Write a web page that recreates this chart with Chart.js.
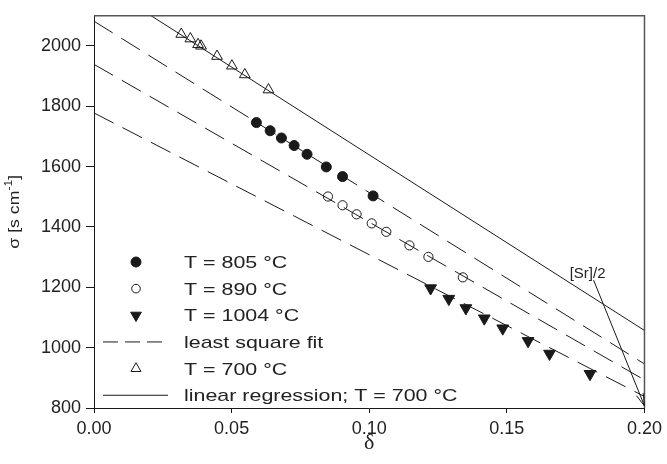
<!DOCTYPE html>
<html>
<head>
<meta charset="utf-8">
<script src="https://cdn.jsdelivr.net/npm/chart.js@4.4.1/dist/chart.umd.min.js"></script>
<style>
  html, body { margin: 0; padding: 0; background: #fff; }
</style>
</head>
<body>
<canvas id="myChart" width="667" height="464"></canvas>
<script>
// conductivity vs. oxygen nonstoichiometry for each temperature
let delta805 = [0.0590, 0.0640, 0.0681, 0.0727, 0.0774, 0.0844, 0.0903, 0.1014];
let sigma805 = [1746, 1719, 1695, 1670, 1641, 1599, 1567, 1503];
let delta890 = [0.0850, 0.0903, 0.0954, 0.1009, 0.1062, 0.1146, 0.1215, 0.1340];
let sigma890 = [1501, 1472, 1442, 1412, 1384, 1339, 1301, 1233];
let delta1004 = [0.1223, 0.1289, 0.1351, 0.1418, 0.1485, 0.1577, 0.1655, 0.1802];
let sigma1004 = [1197, 1162, 1131, 1097, 1064, 1022, 980, 913];
let delta700 = [0.0317, 0.0350, 0.0378, 0.0389, 0.0447, 0.0501, 0.0548, 0.0634];
let sigma700 = [2039, 2024, 2005, 2000, 1966, 1934, 1905, 1855];

// fitted lines: sigma at delta = 0 and at delta = 0.2
let fitDelta = [0, 0.2];
let fit805 = [2082, 946];
let fit890 = [1939, 893];
let fit1004 = [1778, 838];
let reg700 = [2221, 1057];

// [Sr]/2 marker: arrow from label to delta = 0.2
let srLabel = "[Sr]/2";
let srDelta = [0.1815, 0.2];
let srSigma = [1224, 807];

let xTicks = [0, 0.05, 0.10, 0.15, 0.20];
let yTicks = [800, 1000, 1200, 1400, 1600, 1800, 2000];

let legendLabels = ["T = 805 °C", "T = 890 °C", "T = 1004 °C", "least square fit", "T = 700 °C", "linear regression; T = 700 °C"];

const FONT = '"Liberation Sans", Arial, sans-serif';
const INK = '#1a1a1a';

function pts(xs, ys){
    return xs.map((x, i) => ({x: x, y: ys[i]}));
}

function markerSet(label, xs, ys, style, radius, filled, rotation){
    return {
        label: label,
        data: pts(xs, ys),
        showLine: false,
        pointStyle: style,
        pointRadius: radius,
        pointRotation: rotation || 0,
        pointBackgroundColor: filled ? INK : 'rgba(0,0,0,0)',
        pointBorderColor: INK,
        pointBorderWidth: 1,
        order: 0
    };
}

function lineSet(label, ys, dash){
    return {
        label: label,
        data: pts(fitDelta, ys),
        showLine: true,
        pointRadius: 0,
        borderColor: INK,
        borderWidth: 1,
        borderDash: dash,
        order: 1
    };
}

// legend rows: marker / line sample, drawn inside the plot
let legendRows = [
    {point: {pointStyle: 'circle', radius: 5, rotation: 0}, fill: true},
    {point: {pointStyle: 'circle', radius: 4.3, rotation: 0}, fill: false},
    {point: {pointStyle: 'triangle', radius: 6.2, rotation: 180}, fill: true},
    {dash: [15, 7]},
    {point: {pointStyle: 'triangle', radius: 5.8, rotation: 0}, fill: false},
    {dash: []}
];

let extras = {
    id: 'extras',
    afterDraw(chart){
        let ctx = chart.ctx;
        let a = chart.chartArea;
        let xs = chart.scales.x, ys = chart.scales.y;

        // top and right frame
        ctx.save();
        ctx.strokeStyle = '#555';
        ctx.lineWidth = 1.5;
        ctx.beginPath();
        ctx.moveTo(a.left, a.top);
        ctx.lineTo(a.right, a.top);
        ctx.lineTo(a.right, a.bottom);
        ctx.stroke();
        ctx.restore();

        // legend
        ctx.save();
        let rowY = 262, rowStep = 26.65;
        legendRows.forEach((row, i) => {
            let y = rowY + i * rowStep;
            ctx.strokeStyle = INK;
            ctx.lineWidth = 1;
            if (row.point){
                ctx.fillStyle = row.fill ? INK : 'rgba(0,0,0,0)';
                Chart.helpers.drawPoint(ctx, Object.assign({borderWidth: 1}, row.point), 136, y);
            } else {
                ctx.setLineDash(row.dash);
                ctx.beginPath();
                ctx.moveTo(103, y);
                ctx.lineTo(168, y);
                ctx.stroke();
                ctx.setLineDash([]);
            }
            ctx.save();
            ctx.translate(184, y + 6);
            ctx.scale(1.26, 1);
            ctx.font = '17px ' + FONT;
            ctx.fillStyle = '#222';
            ctx.textBaseline = 'alphabetic';
            ctx.fillText(legendLabels[i], 0, 0);
            ctx.restore();
        });
        ctx.restore();

        // y axis title with superscript
        ctx.save();
        ctx.translate(15, (a.top + a.bottom) / 2);
        ctx.rotate(-Math.PI / 2);
        ctx.scale(1.18, 1);
        ctx.fillStyle = '#222';
        ctx.textBaseline = 'middle';
        let mainFont = '15px ' + FONT, supFont = '10px ' + FONT;
        ctx.font = mainFont;
        let w1 = ctx.measureText('σ [s cm').width;
        let w3 = ctx.measureText(']').width;
        ctx.font = supFont;
        let w2 = ctx.measureText('-1').width;
        let tx = -(w1 + w2 + w3) / 2;
        ctx.font = mainFont;
        ctx.fillText('σ [s cm', tx, 0);
        ctx.font = supFont;
        ctx.fillText('-1', tx + w1, -6);
        ctx.font = mainFont;
        ctx.fillText(']', tx + w1 + w2, 0);
        ctx.restore();

        // [Sr]/2 arrow
        let x0 = xs.getPixelForValue(srDelta[0]), y0 = ys.getPixelForValue(srSigma[0]);
        let x1 = xs.getPixelForValue(srDelta[1]), y1 = ys.getPixelForValue(srSigma[1]);
        ctx.save();
        ctx.strokeStyle = INK;
        ctx.lineWidth = 1;
        ctx.beginPath();
        ctx.moveTo(x0, y0);
        ctx.lineTo(x1, y1);
        let ang = Math.atan2(y1 - y0, x1 - x0);
        let head = 13, spread = 0.28;
        ctx.moveTo(x1 - head * Math.cos(ang - spread), y1 - head * Math.sin(ang - spread));
        ctx.lineTo(x1, y1);
        ctx.lineTo(x1 - head * Math.cos(ang + spread), y1 - head * Math.sin(ang + spread));
        ctx.stroke();
        ctx.font = '15px ' + FONT;
        ctx.fillStyle = '#222';
        ctx.textAlign = 'center';
        ctx.textBaseline = 'alphabetic';
        ctx.fillText(srLabel, x0 - 6, y0 - 2);
        ctx.restore();
    }
};

let ctx = document.getElementById('myChart').getContext('2d');
let myChart = new Chart(ctx, {
    type: 'scatter',
    data: {
        datasets: [
            markerSet(legendLabels[0], delta805, sigma805, 'circle', 5, true),
            markerSet(legendLabels[1], delta890, sigma890, 'circle', 4.6, false),
            markerSet(legendLabels[2], delta1004, sigma1004, 'triangle', 6.8, true, 180),
            markerSet(legendLabels[4], delta700, sigma700, 'triangle', 6.2, false),
            lineSet('fit 805', fit805, [22, 10]),
            lineSet('fit 890', fit890, [22, 10]),
            lineSet('fit 1004', fit1004, [22, 10]),
            lineSet(legendLabels[5], reg700, [])
        ]
    },
    options: {
        responsive: false,
        animation: false,
        events: [],
        layout: {padding: {top: 9, right: 19, left: 0, bottom: 0}},
        plugins: {
            legend: {display: false},
            tooltip: {enabled: false}
        },
        scales: {
            x: {
                type: 'linear',
                min: 0,
                max: 0.2,
                afterBuildTicks: axis => { axis.ticks = xTicks.map(v => ({value: v})); },
                afterFit: scale => { scale.height = 56; },
                ticks: {
                    callback: v => v.toFixed(2),
                    font: {family: FONT, size: 18},
                    color: '#222',
                    padding: 5,
                    maxRotation: 0
                },
                grid: {drawOnChartArea: false, drawTicks: true, tickLength: 5, color: INK},
                border: {color: INK, width: 1},
                title: {
                    display: true,
                    text: 'δ',
                    font: {family: '"Liberation Serif", serif', size: 22},
                    color: '#222',
                    padding: {top: 0, bottom: 8}
                }
            },
            y: {
                min: 800,
                max: 2100,
                afterBuildTicks: axis => { axis.ticks = yTicks.map(v => ({value: v})); },
                afterFit: scale => { scale.width = 94; },
                ticks: {
                    callback: v => String(v),
                    font: {family: FONT, size: 18},
                    color: '#222',
                    padding: 5
                },
                grid: {drawOnChartArea: false, drawTicks: true, tickLength: 8, color: INK},
                border: {color: INK, width: 1}
            }
        }
    },
    plugins: [extras]
});
</script>
</body>
</html>
